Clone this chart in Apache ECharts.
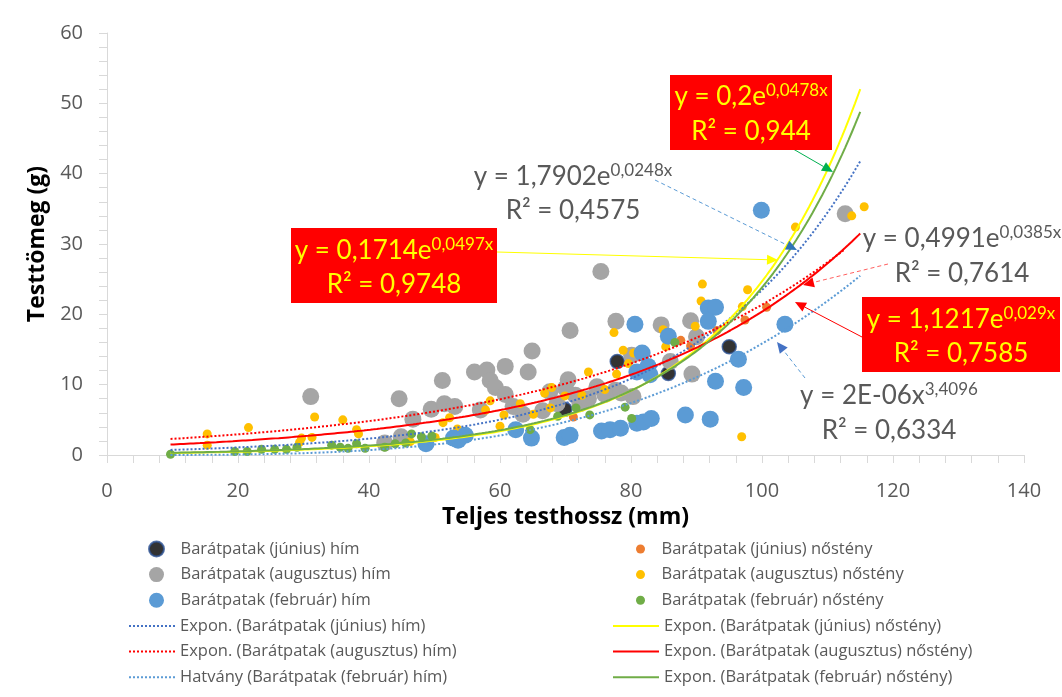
<!DOCTYPE html>
<html>
<head>
<meta charset="utf-8">
<script src="https://cdn.jsdelivr.net/npm/echarts@6/dist/echarts.min.js"></script>
<style>
html,body{margin:0;padding:0;background:#fff;}
#chart{width:1062px;height:697px;}
</style>
</head>
<body>
<div id="chart"></div>
<script>
// ---------- DATA ----------
const xTicks = [0, 20, 40, 60, 80, 100, 120, 140];
const yTicks = [0, 10, 20, 30, 40, 50, 60];

const seriesNames = [
  'Barátpatak (június) hím', 'Barátpatak (június) nőstény',
  'Barátpatak (augusztus) hím', 'Barátpatak (augusztus) nőstény',
  'Barátpatak (február) hím', 'Barátpatak (február) nőstény'
];
const trendNames = [
  'Expon. (Barátpatak (június) hím)', 'Expon. (Barátpatak (június) nőstény)',
  'Expon. (Barátpatak (augusztus) hím)', 'Expon. (Barátpatak (augusztus) nőstény)',
  'Hatvány (Barátpatak (február) hím)', 'Expon. (Barátpatak (február) nőstény)'
];

const junHim = [[69.9,6.5],[77.9,13.3],[85.7,11.6],[95.0,15.4]];
const junNo = [[71.2,5.4],[87.6,16.3],[89.1,15.5],[93.1,17.7],[97.4,19.2],[100.7,21.0]];
const augHim = [
  [31.1,8.3],[44.6,8.0],[51.2,10.6],[56.1,11.8],[58.0,12.1],[58.5,10.6],[59.3,9.6],
  [60.8,12.6],[64.9,14.8],[64.3,11.8],[70.7,17.7],[75.4,26.1],[77.7,19.0],[84.6,18.5],
  [89.1,19.1],[90.0,16.8],[89.3,11.5],[86.0,13.3],[80.1,14.2],[112.7,34.3],
  [49.5,6.5],[51.5,7.3],[53.1,6.9],[46.7,5.1],[44.9,2.6],[42.4,1.7],[60.8,8.6],
  [57.0,6.4],[62.0,6.9],[67.6,9.0],[70.4,10.7],[74.8,9.7],[77.6,9.2],[68.7,7.3],
  [72.2,7.3],[80.3,8.3],[63.5,5.8],[66.5,6.3],[73.5,8.0],[76.0,8.6],[78.5,8.8],
  [70.0,9.5],[71.5,8.5]
];
const augNo = [
  [15.3,3.0],[15.3,1.4],[21.6,3.9],[31.7,5.4],[31.3,2.5],[29.7,2.4],[29.4,1.8],
  [36.0,5.0],[38.1,3.6],[38.4,3.0],[46.3,1.9],[50.1,2.5],[52.3,5.3],[51.3,4.6],
  [53.5,3.7],[58.5,7.7],[57.8,6.4],[60.6,5.7],[63.1,7.3],[65.1,5.8],[66.8,8.8],
  [67.9,9.6],[69.9,8.4],[67.7,6.7],[72.5,8.5],[76.0,9.3],[60.0,4.1],[73.5,11.8],
  [77.4,17.4],[78.8,14.9],[80.4,14.5],[77.8,11.5],[79.6,13.0],[80.9,12.1],[84.9,17.8],
  [85.3,15.4],[89.8,18.3],[90.9,24.3],[90.7,21.9],[97.8,23.5],[97.0,21.1],[96.9,2.6],
  [105.1,32.4],[113.7,34.0],[115.6,35.3]
];
const febHim = [
  [48.7,1.6],[52.9,2.4],[54.7,2.8],[53.6,2.1],[62.4,3.6],[64.8,2.4],[69.8,2.5],
  [70.7,2.8],[75.5,3.4],[76.8,3.6],[78.4,3.8],[80.9,4.5],[81.9,4.7],[83.1,5.2],
  [88.3,5.7],[92.1,5.1],[80.6,18.6],[85.7,16.9],[81.7,14.5],[82.6,12.6],[82.9,11.4],
  [80.9,11.8],[91.8,20.9],[92.9,21.0],[91.8,19.0],[96.4,13.6],[92.9,10.5],[97.2,9.6],
  [103.5,18.6],[99.9,34.8]
];
const febNo = [
  [9.7,0.1],[19.5,0.5],[21.4,0.5],[23.6,0.8],[25.6,0.8],[27.4,0.8],[29.0,1.1],
  [34.3,1.4],[35.6,1.1],[36.8,0.95],[38.1,1.6],[39.4,0.95],[42.4,1.1],[44.0,1.6],
  [46.5,3.0],[48.0,2.6],[49.6,2.7],[45.6,1.7],[64.6,3.6],[68.8,5.5],[71.6,6.7],
  [73.7,5.7],[79.1,6.8],[80.1,5.2],[86.7,16.0]
];

// trendline coefficients as printed on the chart (type, a, b, xFrom, xTo)
const trendJunHim = ['exp', 0.4991, 0.0385, 9.7, 115];
const trendJunNo  = ['exp', 0.1714, 0.0497, 9.7, 115];
const trendAugHim = ['exp', 1.7902, 0.0248, 9.7, 112.7];
const trendAugNo  = ['exp', 1.1217, 0.029, 9.7, 115];
const trendFebHim = ['pow', 2.4e-6, 3.4096, 9.7, 115];
const trendFebNo  = ['exp', 0.2, 0.0478, 9.7, 115];

// ---------- BUILD ----------
function trendData(t) {
  const [kind, a, b, x0, x1] = t;
  const out = [];
  const f = x => kind === 'exp' ? a * Math.exp(b * x) : a * Math.pow(x, b);
  for (let x = x0; x < x1; x += 0.5) out.push([x, f(x)]);
  out.push([x1, f(x1)]);
  return out;
}

const FONT = 'Lato';
const FONT2 = 'Open Sans';
const GRAY = '#595959';
const AX = '#D9D9D9';

const chart = echarts.init(document.getElementById('chart'), null, {renderer: 'canvas'});

function scatter(name, data, color, size, extra) {
  return Object.assign({
    name, type: 'scatter', data, symbol: 'circle', symbolSize: size,
    itemStyle: {color, opacity: 1}, emphasis: {disabled: true}, silent: true
  }, extra || {});
}
function trend(name, t, color, type) {
  return {
    name, type: 'line', data: trendData(t), showSymbol: false, symbol: 'none',
    lineStyle: {color, width: 2, type}, itemStyle: {color}, silent: true, z: 4,
    emphasis: {disabled: true}
  };
}

const series = [
  scatter(seriesNames[0], junHim, '#000000', 14, {itemStyle: {color: '#000', borderColor: '#2F5597', borderWidth: 1.5}}),
  scatter(seriesNames[1], junNo, '#ED7D31', 9),
  scatter(seriesNames[2], augHim, '#A5A5A5', 17),
  scatter(seriesNames[3], augNo, '#FFC000', 9),
  scatter(seriesNames[4], febHim, '#5B9BD5', 17),
  scatter(seriesNames[5], febNo, '#70AD47', 9),
  trend(trendNames[0], trendJunHim, '#4472C4', 'dotted'),
  trend(trendNames[1], trendJunNo, '#FFFF00', 'solid'),
  trend(trendNames[2], trendAugHim, '#FF0000', 'dotted'),
  trend(trendNames[3], trendAugNo, '#FF0000', 'solid'),
  trend(trendNames[4], trendFebHim, '#5B9BD5', 'dotted'),
  trend(trendNames[5], trendFebNo, '#70AD47', 'solid')
];

const legTxt = {color: GRAY, fontSize: 16.5, fontFamily: FONT2, lineHeight: 18};
function legend(left, top, data, w, h, extra) {
  return Object.assign({
    left, top, orient: 'vertical', data, itemWidth: w, itemHeight: h,
    itemGap: 7.6, textStyle: legTxt, selectedMode: false, padding: 0
  }, extra || {});
}

// ---------- annotations (layout) ----------
function richLine(x, y, main, sup, color, size, supSize) {
  return {
    type: 'text', x, y, silent: true, z: 100,
    style: {
      text: '{m|' + main + '}' + (sup ? '{s|' + sup + '}' : ''),
      align: 'center', verticalAlign: 'middle',
      rich: {
        m: {fontSize: size, fontFamily: FONT, fill: color, color, lineHeight: 30, verticalAlign: 'middle'},
        s: {fontSize: supSize, fontFamily: FONT, fill: color, color, verticalAlign: 'top', lineHeight: 18}
      }
    }
  };
}
function box(x, y, w, h) {
  return {type: 'rect', shape: {x, y, width: w, height: h}, style: {fill: '#FF0000'}, silent: true, z: 99};
}
function arrow(x1, y1, x2, y2, color, headColor, dash) {
  const ang = Math.atan2(y2 - y1, x2 - x1);
  const L = 11, W = 5;
  const bx = x2 - L * Math.cos(ang), by = y2 - L * Math.sin(ang);
  const px = -Math.sin(ang) * W, py = Math.cos(ang) * W;
  return [
    {type: 'line', shape: {x1, y1, x2: bx, y2: by}, style: {stroke: color, lineWidth: 1, lineDash: dash ? [4, 3] : null}, silent: true, z: 98},
    {type: 'polygon', shape: {points: [[x2, y2], [bx + px, by + py], [bx - px, by - py]]}, style: {fill: headColor}, silent: true, z: 98}
  ];
}

const YEL = '#FFFF00';
const graphics = [].concat(
  arrow(788, 146, 833, 172, '#00B050', '#00B050', false),
  arrow(655, 180, 797, 250, '#5B9BD5', '#2E75B6', true),
  arrow(497, 252, 778, 260, '#FFFF00', '#FFFF00', false),
  arrow(888, 264, 803, 285, '#FF6060', '#FF0000', true),
  arrow(862, 337, 795, 302, '#FF0000', '#FF0000', false),
  arrow(805, 378, 777, 342, '#5B9BD5', '#4472C4', true),
  [
    box(670, 75, 162, 75),
    richLine(751, 97, 'y = 0,2e', '0,0478x', YEL, 26, 17),
    richLine(751, 132, 'R² = 0,944', null, YEL, 26, 17),

    richLine(573, 177, 'y = 1,7902e', '0,0248x', GRAY, 26, 17),
    richLine(573, 211, 'R² = 0,4575', null, GRAY, 26, 17),

    box(291, 228, 206, 75),
    richLine(394, 251, 'y = 0,1714e', '0,0497x', YEL, 26, 17),
    richLine(394, 285, 'R² = 0,9748', null, YEL, 26, 17),

    richLine(962, 239, 'y = 0,4991e', '0,0385x', GRAY, 26, 17),
    richLine(962, 274, 'R² = 0,7614', null, GRAY, 26, 17),

    box(862, 297, 198, 75),
    richLine(961, 320, 'y = 1,1217e', '0,029x', YEL, 26, 17),
    richLine(961, 354, 'R² = 0,7585', null, YEL, 26, 17),

    richLine(889, 396, 'y = 2E-06x', '3,4096', GRAY, 26, 17),
    richLine(889, 431, 'R² = 0,6334', null, GRAY, 26, 17)
  ]
);

const option = {
  backgroundColor: '#ffffff',
  animation: false,
  textStyle: {fontFamily: FONT},
  grid: {left: 107, right: 38, top: 33, bottom: 242, containLabel: false},
  xAxis: {
    type: 'value', min: xTicks[0], max: xTicks[xTicks.length - 1], interval: xTicks[1] - xTicks[0],
    name: 'Teljes testhossz (mm)', nameLocation: 'middle', nameGap: 50,
    nameTextStyle: {fontSize: 23, fontWeight: 'bold', color: '#000', fontFamily: FONT2},
    axisLine: {show: true, lineStyle: {color: AX, width: 1}},
    axisTick: {show: true, length: 8, lineStyle: {color: AX}},
    minorTick: {show: true, splitNumber: 5, length: 8, lineStyle: {color: AX}},
    splitLine: {show: false},
    axisLabel: {fontSize: 20, color: GRAY, margin: 26, fontFamily: FONT2}
  },
  yAxis: {
    type: 'value', min: yTicks[0], max: yTicks[yTicks.length - 1], interval: yTicks[1] - yTicks[0],
    name: 'Testtömeg (g)', nameLocation: 'middle', nameGap: 51, nameRotate: 90,
    nameTextStyle: {fontSize: 23, fontWeight: 'bold', color: '#000', fontFamily: FONT2},
    axisLine: {show: true, lineStyle: {color: AX, width: 1}},
    axisTick: {show: true, length: 8, lineStyle: {color: AX}},
    minorTick: {show: true, splitNumber: 5, length: 8, lineStyle: {color: AX}},
    splitLine: {show: false},
    axisLabel: {fontSize: 20, color: GRAY, margin: 24, fontFamily: FONT2}
  },
  legend: [
    legend(148, 540, [seriesNames[0], seriesNames[2], seriesNames[4]], 38, 15),
    legend(636, 540, [seriesNames[1], seriesNames[3], seriesNames[5]], 32, 9),
    legend(128, 617, [trendNames[0], trendNames[2], trendNames[4]], 46, 14, {itemStyle: {opacity: 0}}),
    legend(612, 617, [trendNames[1], trendNames[3], trendNames[5]], 46, 14, {itemStyle: {opacity: 0}})
  ],
  series,
  graphic: graphics
};
chart.setOption(option);
</script>
</body>
</html>
